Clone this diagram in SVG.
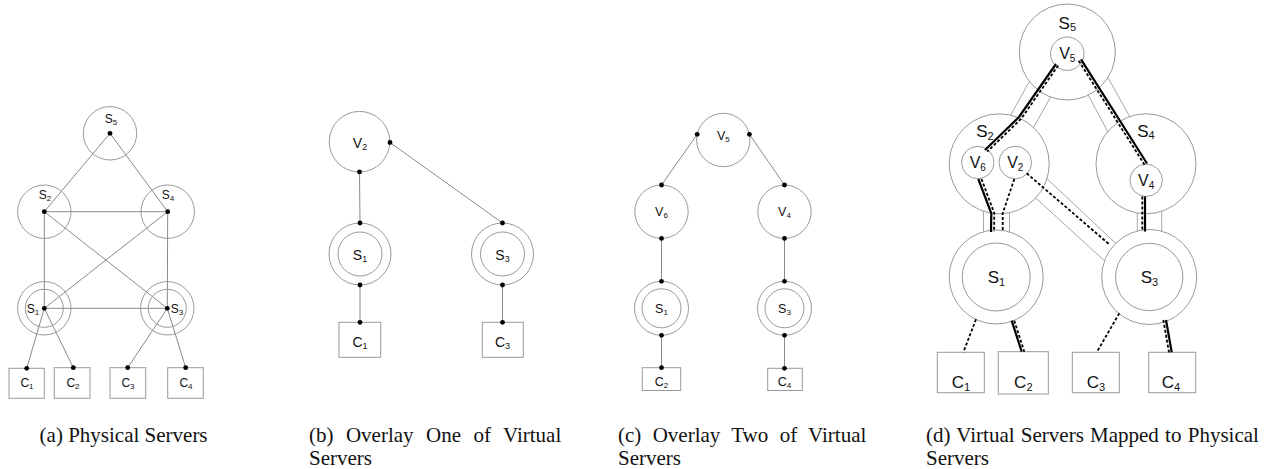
<svg xmlns="http://www.w3.org/2000/svg" width="1273" height="469" viewBox="0 0 1273 469">
<style>
.nd{fill:none;stroke:#9a9a9a;stroke-width:1}
.ndw{fill:#fff;stroke:#9a9a9a;stroke-width:1}
.bx{fill:#fff;stroke:#9a9a9a;stroke-width:1}
.ln{stroke:#8a8a8a;stroke-width:1;fill:none}
.tb{stroke:#a8a8a8;stroke-width:1;fill:none}
.dot{fill:#000}
.lb{font-family:"Liberation Sans",Arial,sans-serif;fill:#111;text-anchor:middle}
.cap{font-family:"Liberation Serif","Times New Roman",serif;font-size:21px;fill:#111}
.so{stroke:#000;stroke-width:2.2;fill:none;stroke-linejoin:round}
.da{stroke:#000;stroke-width:1.8;fill:none;stroke-dasharray:3 2;stroke-linejoin:round}
</style>
<rect width="1273" height="469" fill="#fff"/>

<!-- Panel (a) -->
<g id="connectors-a">
<g class="ln">
<line x1="110" y1="133.3" x2="44.3" y2="211.7"/>
<line x1="110" y1="133.3" x2="167.7" y2="211.7"/>
<line x1="44.3" y1="211.7" x2="167.7" y2="211.7"/>
<line x1="44.3" y1="211.7" x2="44.3" y2="308.3"/>
<line x1="167.7" y1="211.7" x2="167.3" y2="308.3"/>
<line x1="44.3" y1="211.7" x2="167.3" y2="308.3"/>
<line x1="167.7" y1="211.7" x2="44.3" y2="308.3"/>
<line x1="44.3" y1="308.3" x2="167.3" y2="308.3"/>
<line x1="44.3" y1="308.3" x2="26.7" y2="368.3"/>
<line x1="44.3" y1="308.3" x2="73.3" y2="367.7"/>
<line x1="167.3" y1="308.3" x2="127.7" y2="367.7"/>
<line x1="167.3" y1="308.3" x2="185.7" y2="367.7"/>
</g>
</g>
<g id="a-S5"><circle class="nd" cx="110" cy="133.3" r="26.7"/><circle class="dot" cx="110" cy="133.3" r="2.4"/><text class="lb" x="111" y="123" font-size="12">S<tspan font-size="8" dy="2">5</tspan></text></g>
<g id="a-S2"><circle class="nd" cx="44.3" cy="211.7" r="26.7"/><circle class="dot" cx="44.3" cy="211.7" r="2.4"/><text class="lb" x="45" y="199" font-size="12">S<tspan font-size="8" dy="2">2</tspan></text></g>
<g id="a-S4"><circle class="nd" cx="167.7" cy="211.7" r="26.7"/><circle class="dot" cx="167.7" cy="211.7" r="2.4"/><text class="lb" x="168" y="198.5" font-size="12">S<tspan font-size="8" dy="2">4</tspan></text></g>
<g id="a-S1"><circle class="nd" cx="44.3" cy="308.3" r="26.7"/><circle class="nd" cx="44.3" cy="308.3" r="19"/><circle class="dot" cx="44.3" cy="308.3" r="2.4"/><text class="lb" x="33" y="312.5" font-size="12">S<tspan font-size="8" dy="2">1</tspan></text></g>
<g id="a-S3"><circle class="nd" cx="167.3" cy="308.3" r="26.7"/><circle class="nd" cx="167.3" cy="308.3" r="19"/><circle class="dot" cx="167.3" cy="308.3" r="2.4"/><text class="lb" x="177" y="312.5" font-size="12">S<tspan font-size="8" dy="2">3</tspan></text></g>
<g id="a-C1"><rect class="bx" x="9" y="368.3" width="35.3" height="30"/><circle class="dot" cx="26.7" cy="368.3" r="2.4"/><text class="lb" x="27" y="386.5" font-size="12">C<tspan font-size="8" dy="2">1</tspan></text></g>
<g id="a-C2"><rect class="bx" x="54.3" y="367.7" width="35.7" height="30.6"/><circle class="dot" cx="73.3" cy="367.7" r="2.4"/><text class="lb" x="73" y="386.5" font-size="12">C<tspan font-size="8" dy="2">2</tspan></text></g>
<g id="a-C3"><rect class="bx" x="110" y="367.7" width="35.7" height="30.6"/><circle class="dot" cx="127.7" cy="367.7" r="2.4"/><text class="lb" x="128" y="386.5" font-size="12">C<tspan font-size="8" dy="2">3</tspan></text></g>
<g id="a-C4"><rect class="bx" x="167.7" y="367.7" width="35.6" height="30.6"/><circle class="dot" cx="185.7" cy="367.7" r="2.4"/><text class="lb" x="186" y="386.5" font-size="12">C<tspan font-size="8" dy="2">4</tspan></text></g>

<!-- Panel (b) -->
<g id="connectors-b">
<g class="ln">
<line x1="359.5" y1="171.7" x2="360" y2="223"/>
<line x1="390" y1="142.5" x2="502.5" y2="223"/>
<line x1="360" y1="285" x2="360" y2="322.3"/>
<line x1="502.5" y1="285" x2="502.5" y2="322.3"/>
</g>
</g>
<g id="b-V2"><circle class="nd" cx="359.5" cy="141.7" r="30.3"/><circle class="dot" cx="390" cy="142.5" r="2.4"/><circle class="dot" cx="359.5" cy="171.9" r="2.4"/><text class="lb" x="360" y="148.3" font-size="14">V<tspan font-size="9" dy="2">2</tspan></text></g>
<g id="b-S1"><circle class="nd" cx="360" cy="254" r="31"/><circle class="nd" cx="360" cy="254" r="22"/><circle class="dot" cx="360" cy="223" r="2.4"/><circle class="dot" cx="360" cy="285" r="2.4"/><text class="lb" x="360" y="260" font-size="14">S<tspan font-size="9" dy="2">1</tspan></text></g>
<g id="b-S3"><circle class="nd" cx="502.5" cy="254" r="31"/><circle class="nd" cx="502.5" cy="254" r="22"/><circle class="dot" cx="502.5" cy="223" r="2.4"/><circle class="dot" cx="502.5" cy="285" r="2.4"/><text class="lb" x="502.5" y="260" font-size="14">S<tspan font-size="9" dy="2">3</tspan></text></g>
<g id="b-C1"><rect class="bx" x="339" y="322.3" width="41.7" height="35"/><circle class="dot" cx="360" cy="322.3" r="2.4"/><text class="lb" x="360" y="346.5" font-size="14">C<tspan font-size="9" dy="2">1</tspan></text></g>
<g id="b-C3"><rect class="bx" x="482.3" y="322.3" width="41" height="35"/><circle class="dot" cx="502.5" cy="322.3" r="2.4"/><text class="lb" x="502.5" y="346.5" font-size="14">C<tspan font-size="9" dy="2">3</tspan></text></g>

<!-- Panel (c) -->
<g id="connectors-c">
<g class="ln">
<line x1="697.2" y1="134.3" x2="661.5" y2="185"/>
<line x1="749.4" y1="134.3" x2="784.5" y2="185"/>
<line x1="661.5" y1="238.4" x2="661.5" y2="281.3"/>
<line x1="784.5" y1="238.4" x2="784.5" y2="281.3"/>
<line x1="661.5" y1="335.3" x2="661.5" y2="367.7"/>
<line x1="784.5" y1="335.3" x2="784.5" y2="368.3"/>
</g>
</g>
<g id="c-V5"><circle class="nd" cx="723.3" cy="140" r="26.7"/><circle class="dot" cx="697.2" cy="134.3" r="2.4"/><circle class="dot" cx="749.4" cy="134.3" r="2.4"/><text class="lb" x="723.3" y="139.5" font-size="12.5">V<tspan font-size="8" dy="2">5</tspan></text></g>
<g id="c-V6"><circle class="nd" cx="661.5" cy="211.7" r="26.7"/><circle class="dot" cx="661.5" cy="185" r="2.4"/><circle class="dot" cx="661.5" cy="238.4" r="2.4"/><text class="lb" x="661.5" y="216" font-size="12.5">V<tspan font-size="8" dy="2">6</tspan></text></g>
<g id="c-V4"><circle class="nd" cx="784.5" cy="211.7" r="26.7"/><circle class="dot" cx="784.5" cy="185" r="2.4"/><circle class="dot" cx="784.5" cy="238.4" r="2.4"/><text class="lb" x="784.5" y="216" font-size="12.5">V<tspan font-size="8" dy="2">4</tspan></text></g>
<g id="c-S1"><circle class="nd" cx="661.5" cy="308.3" r="27"/><circle class="nd" cx="661.5" cy="308.3" r="19.5"/><circle class="dot" cx="661.5" cy="281.3" r="2.4"/><circle class="dot" cx="661.5" cy="335.3" r="2.4"/><text class="lb" x="661.5" y="313" font-size="12.5">S<tspan font-size="8" dy="2">1</tspan></text></g>
<g id="c-S3"><circle class="nd" cx="784.5" cy="308.3" r="27"/><circle class="nd" cx="784.5" cy="308.3" r="19.5"/><circle class="dot" cx="784.5" cy="281.3" r="2.4"/><circle class="dot" cx="784.5" cy="335.3" r="2.4"/><text class="lb" x="784.5" y="313" font-size="12.5">S<tspan font-size="8" dy="2">3</tspan></text></g>
<g id="c-C2"><rect class="bx" x="642.3" y="367.7" width="38.4" height="22.8"/><circle class="dot" cx="661.5" cy="367.7" r="2.4"/><text class="lb" x="661.5" y="386.3" font-size="12.5">C<tspan font-size="8" dy="2">2</tspan></text></g>
<g id="c-C4"><rect class="bx" x="767.7" y="368.3" width="34.6" height="22.2"/><circle class="dot" cx="784.5" cy="368.3" r="2.4"/><text class="lb" x="784.5" y="386.3" font-size="12.5">C<tspan font-size="8" dy="2">4</tspan></text></g>

<!-- Panel (d) -->
<g id="connectors-d-physical" class="tb">
<line x1="1033" y1="75" x2="1007" y2="121.7"/>
<line x1="1054" y1="91" x2="1031" y2="132"/>
<line x1="1086" y1="91" x2="1109" y2="134"/>
<line x1="1106" y1="74" x2="1131" y2="119"/>
<line x1="983.5" y1="205" x2="983.5" y2="240"/>
<line x1="1009.5" y1="205" x2="1009.5" y2="240"/>
<line x1="1137.3" y1="205" x2="1137.3" y2="240"/>
<line x1="1161.7" y1="205" x2="1161.7" y2="240"/>
<line x1="1042.5" y1="174.5" x2="1119.8" y2="247.2"/>
<line x1="1030.1" y1="192.9" x2="1105.9" y2="262.1"/>
</g>
<g id="d-S5"><circle class="ndw" cx="1067.3" cy="52" r="48"/><text class="lb" x="1067.3" y="28.5" font-size="17">S<tspan font-size="11" dy="2.5">5</tspan></text></g>
<g id="d-S2"><circle class="ndw" cx="999.2" cy="163.8" r="50"/><text class="lb" x="985" y="137.3" font-size="17">S<tspan font-size="11" dy="2.5">2</tspan></text></g>
<g id="d-S4"><circle class="ndw" cx="1146" cy="163.8" r="50"/><text class="lb" x="1146" y="136.8" font-size="17">S<tspan font-size="11" dy="2.5">4</tspan></text></g>
<g id="d-S1"><circle class="ndw" cx="996.2" cy="277" r="47"/><circle class="nd" cx="996.2" cy="277" r="34"/><text class="lb" x="996.5" y="283.3" font-size="17">S<tspan font-size="11" dy="2.5">1</tspan></text></g>
<g id="d-S3"><circle class="ndw" cx="1149.2" cy="277" r="47.5"/><circle class="nd" cx="1149.2" cy="277" r="33.7"/><text class="lb" x="1149.5" y="283.3" font-size="17">S<tspan font-size="11" dy="2.5">3</tspan></text></g>
<g id="d-V5"><circle class="ndw" cx="1067.3" cy="53.7" r="16.7"/><text class="lb" x="1067.3" y="59" font-size="16">V<tspan font-size="10" dy="2.5">5</tspan></text></g>
<g id="d-V6"><circle class="ndw" cx="977.8" cy="162.5" r="16.2"/><text class="lb" x="977.8" y="168.3" font-size="16">V<tspan font-size="10" dy="2.5">6</tspan></text></g>
<g id="d-V2"><circle class="ndw" cx="1015.3" cy="162.5" r="16.3"/><text class="lb" x="1015.3" y="168.3" font-size="16">V<tspan font-size="10" dy="2.5">2</tspan></text></g>
<g id="d-V4"><circle class="ndw" cx="1146.2" cy="180.3" r="16.2"/><text class="lb" x="1146.2" y="186.3" font-size="16">V<tspan font-size="10" dy="2.5">4</tspan></text></g>
<g id="d-C1"><rect class="bx" x="937.3" y="352.3" width="47" height="40.4"/><text class="lb" x="961" y="388.3" font-size="17">C<tspan font-size="11" dy="2.5">1</tspan></text></g>
<g id="d-C2"><rect class="bx" x="998.3" y="351.7" width="50" height="42.3"/><text class="lb" x="1023.3" y="388" font-size="17">C<tspan font-size="11" dy="2.5">2</tspan></text></g>
<g id="d-C3"><rect class="bx" x="1072.3" y="352.3" width="47" height="40.4"/><text class="lb" x="1096" y="388.3" font-size="17">C<tspan font-size="11" dy="2.5">3</tspan></text></g>
<g id="d-C4"><rect class="bx" x="1148.7" y="352.3" width="47" height="40.4"/><text class="lb" x="1171" y="388.3" font-size="17">C<tspan font-size="11" dy="2.5">4</tspan></text></g>
<g id="connectors-d-virtual">
<path class="so" d="M1056,64 L1019,117 L985,150"/>
<path class="da" d="M1058.2,65.5 L1021.2,118.7 L987.2,151.7"/>
<path class="so" d="M1081,59.3 L1147,163.5"/>
<path class="da" d="M1078.7,60.8 L1144.7,165"/>
<path class="so" d="M978.3,179 L991.3,213.3 L991,232"/>
<path class="da" d="M981.5,179 L994.3,213.3 L994,232"/>
<path class="so" d="M1145,196.5 L1145,231.5"/>
<path class="da" d="M1142.3,196.5 L1142.3,231.5"/>
<path class="so" d="M1011.7,320.7 L1021.7,351.7"/>
<path class="da" d="M1014.3,320.7 L1024.3,351.7"/>
<path class="so" d="M1166,320 L1171.7,352.3"/>
<path class="da" d="M1163.3,320 L1169,352.3"/>
<path class="da" d="M1014.3,179 L1002.7,213.3 L1002.7,231.5"/>
<path class="da" d="M1026.7,173.3 L1110,245"/>
<path class="da" d="M976,319.3 L963.3,352.3"/>
<path class="da" d="M1119.3,313.3 L1096.7,352.3"/>
</g>

<!-- Captions -->
<g id="captions">
<text class="cap" x="39.6" y="442">(a) Physical Servers</text>
<text class="cap" x="309" y="442" word-spacing="7.2">(b) Overlay One of Virtual</text>
<text class="cap" x="309" y="464.5">Servers</text>
<text class="cap" x="618" y="442" word-spacing="6.1">(c) Overlay Two of Virtual</text>
<text class="cap" x="618" y="464.5">Servers</text>
<text class="cap" x="926" y="442" word-spacing="1">(d) Virtual Servers Mapped to Physical</text>
<text class="cap" x="926" y="464.5">Servers</text>
</g>
</svg>
